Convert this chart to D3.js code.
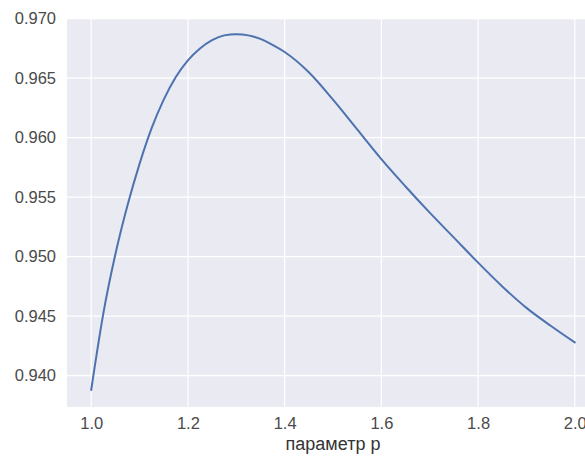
<!DOCTYPE html>
<html>
<head>
<meta charset="utf-8">
<script src="https://cdn.jsdelivr.net/npm/d3@7"></script>
<style>
  html, body { margin: 0; padding: 0; background: #ffffff; }
  svg { display: block; }
</style>
</head>
<body>
<svg id="chart" width="585" height="460"></svg>
<script>
// Data
const pValues = [1.000, 1.025, 1.050, 1.075, 1.100, 1.125, 1.150, 1.175, 1.200, 1.225, 1.250, 1.275, 1.300, 1.325, 1.350, 1.375, 1.400, 1.450, 1.500, 1.550, 1.600, 1.650, 1.700, 1.750, 1.800, 1.850, 1.900, 1.950, 2.000];
const scoreValues = [0.9388, 0.9452, 0.9502, 0.9543, 0.9578, 0.9608, 0.9632, 0.9651, 0.9665, 0.9675, 0.9682, 0.9686, 0.9687, 0.9686, 0.9683, 0.9678, 0.9672, 0.9655, 0.9632, 0.9607, 0.9582, 0.9559, 0.9537, 0.9516, 0.9495, 0.9475, 0.9457, 0.9442, 0.9428];
const xTicks = [1.0, 1.2, 1.4, 1.6, 1.8, 2.0];
const yTicks = [0.940, 0.945, 0.950, 0.955, 0.960, 0.965, 0.970];
const xLabel = "параметр p";

const svg = d3.select("#chart");
const plot = { left: 67, top: 18, right: 599, bottom: 407 };

const x = d3.scaleLinear().domain([0.95, 2.05]).range([plot.left, plot.right]);
const y = d3.scaleLinear().domain([0.93737, 0.97006]).range([plot.bottom, plot.top]);

// axes background
svg.append("rect")
  .attr("x", plot.left).attr("y", plot.top)
  .attr("width", plot.right - plot.left).attr("height", plot.bottom - plot.top)
  .attr("fill", "#EAEAF2");

// grid
const grid = svg.append("g");
grid.selectAll("line.v").data(xTicks).join("line")
  .attr("x1", d => x(d)).attr("x2", d => x(d))
  .attr("y1", plot.top).attr("y2", plot.bottom)
  .attr("stroke", "#ffffff").attr("stroke-width", 1.2);
grid.selectAll("line.h").data(yTicks).join("line")
  .attr("y1", d => y(d)).attr("y2", d => y(d))
  .attr("x1", plot.left).attr("x2", plot.right)
  .attr("stroke", "#ffffff").attr("stroke-width", 1.2);

// axes (tick labels only)
const xAxis = d3.axisBottom(x).tickValues(xTicks).tickFormat(d3.format(".1f")).tickSize(0).tickPadding(10);
const yAxis = d3.axisLeft(y).tickValues(yTicks).tickFormat(d3.format(".3f")).tickSize(0).tickPadding(11);

const gx = svg.append("g").attr("transform", `translate(0,${plot.bottom})`).call(xAxis);
const gy = svg.append("g").attr("transform", `translate(${plot.left},0)`).call(yAxis);
[gx, gy].forEach(g => {
  g.select(".domain").remove();
  g.selectAll("text")
    .attr("fill", "#4a4a4a")
    .style("font-family", "'Liberation Sans', Arial, sans-serif")
    .style("font-size", "16.5px");
});

// x label
svg.append("text")
  .attr("x", (x(1.0) + x(2.0)) / 2)
  .attr("y", 450)
  .attr("text-anchor", "middle")
  .attr("fill", "#333333")
  .style("font-family", "'Liberation Sans', Arial, sans-serif")
  .style("font-size", "18px")
  .text(xLabel);

// line
const data = pValues.map((p, i) => ({ p, v: scoreValues[i] }));
svg.append("path")
  .datum(data)
  .attr("fill", "none")
  .attr("stroke", "#4C72B0")
  .attr("stroke-width", 2)
  .attr("stroke-linecap", "round")
  .attr("d", d3.line().x(d => x(d.p)).y(d => y(d.v)).curve(d3.curveMonotoneX));
</script>
</body>
</html>
